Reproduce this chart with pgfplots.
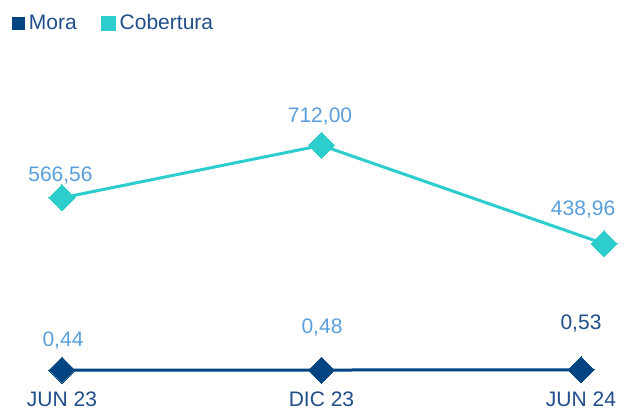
\documentclass[border=0pt]{standalone}
\usepackage{pgfplots}
\pgfplotsset{compat=1.18}
\usepackage{fontspec}
\setmainfont{Liberation Sans}
\definecolor{navy}{HTML}{004481}
\definecolor{aqua}{HTML}{2DCCCD}
\definecolor{lblue}{HTML}{5A9FDB}
\definecolor{dtext}{HTML}{1F4E8A}
\newcommand{\bigf}{\fontsize{21pt}{25pt}\selectfont}
\tikzset{lbl/.style={font=\bigf, text=lblue, anchor=base}}
\begin{document}
\begin{tikzpicture}[x=1pt,y=1pt]
\useasboundingbox (0,0) rectangle (635,416);
% Cobertura axis
\begin{axis}[
  at={(62pt,46pt)}, anchor=south west,
  scale only axis, width=519pt, height=270pt,
  xmin=0, xmax=2, ymin=88.5, ymax=838.1,
  clip=false,
  axis line style={draw=none},
  ytick=\empty,
  xtick={0,1,2},
  xticklabels={JUN 23, DIC 23, JUN 24},
  major tick length=0pt,
  xticklabel style={font=\bigf, text=dtext, anchor=north, yshift=-18pt},
  legend columns=-1,
  legend style={draw=none, fill=none, inner sep=0pt, outer sep=0pt,
    at={(rel axis cs:-0.0954,1.285)}, anchor=west,
    nodes={inner sep=0pt, text=dtext, font=\bigf},
    /tikz/every odd column/.append style={column sep=4pt},
    /tikz/every even column/.append style={column sep=24pt}},
]
\addlegendimage{legend image code/.code={\fill[navy] (0pt,-6pt) rectangle (12pt,6pt);}}
\addlegendentry{Mora}
\addplot[aqua, line width=3pt, mark=square*, mark size=9.2pt,
  mark options={rotate=45, fill=aqua, draw=aqua, line width=0pt},
  legend image code/.code={\fill[aqua] (0pt,-6pt) rectangle (12pt,6pt);}]
  coordinates {(0,566.56) (1,712.00) (2.089,438.96)};
\addlegendentry{Cobertura}
\node[lbl] at (axis cs:0,566.56) [xshift=-1.5pt, yshift=16pt] {566,56};
\node[lbl] at (axis cs:1,712.00) [xshift=-1.5pt, yshift=23pt] {712,00};
\node[lbl] at (axis cs:2.089,438.96) [xshift=-21pt, yshift=28pt] {438,96};
\end{axis}
% Mora axis
\begin{axis}[
  at={(62pt,46pt)}, anchor=south west,
  scale only axis, width=519pt, height=270pt,
  xmin=0, xmax=2, ymin=0.485, ymax=100,
  clip=false, hide axis,
]
\addplot[navy, line width=3pt, mark=square*, mark size=9.2pt,
  mark options={rotate=45, fill=navy, draw=navy, line width=0pt}]
  coordinates {(0,0.44) (1,0.48) (2,0.53)};
\node[lbl] at (axis cs:0,0.44) [xshift=1pt, yshift=24pt] {0,44};
\node[lbl] at (axis cs:1,0.48) [xshift=0.5pt, yshift=37pt] {0,48};
\node[lbl, text=dtext] at (axis cs:2,0.53) [yshift=40pt] {0,53};
\end{axis}
\end{tikzpicture}
\end{document}
